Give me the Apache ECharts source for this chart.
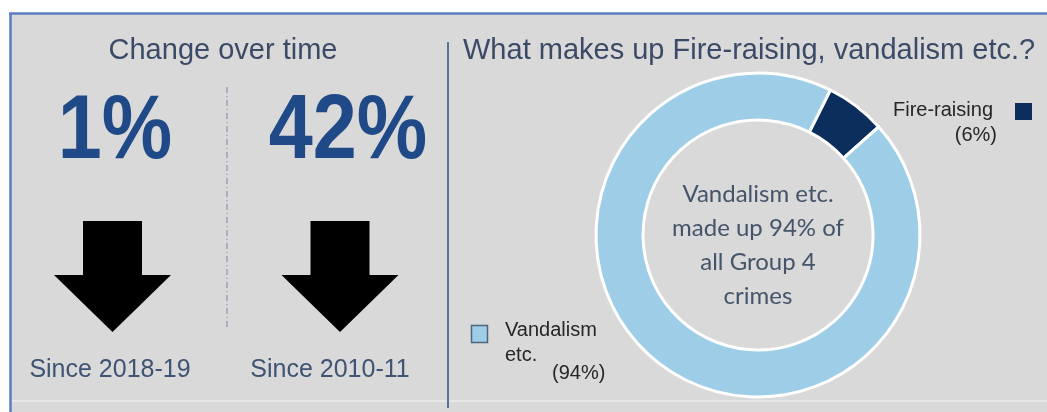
<!DOCTYPE html>
<html>
<head>
<meta charset="utf-8">
<script src="https://cdn.jsdelivr.net/npm/echarts@6/dist/echarts.min.js"></script>
<style>
  html, body { margin: 0; padding: 0; background: #ffffff; }
  #chart { width: 1047px; height: 412px; }
</style>
</head>
<body>
<div id="chart"></div>
<script>
// Change over time panel
const changeValues = [1, 42];                       // % fall
const changePeriods = ['Since 2018-19', 'Since 2010-11'];

// Composition of Group 4 crimes
const crimeTypes = ['Fire-raising', 'Vandalism etc.'];
const crimeShares = [6, 94];                        // % of group
const crimeColors = ['#0c2e5c', '#9ecde7'];

const FONT = '"Liberation Sans", Arial, sans-serif';
const TITLE_COLOR = '#3b4a66';

const chart = echarts.init(document.getElementById('chart'));

// Down arrow polygon around a centre x
function downArrow(cx) {
  return {
    type: 'polygon',
    shape: {
      points: [
        [cx - 29.5, 221], [cx + 29.5, 221], [cx + 29.5, 275],
        [cx + 58.5, 275], [cx, 332], [cx - 58.5, 275], [cx - 29.5, 275]
      ]
    },
    style: { fill: '#000000' }
  };
}

const changeCentres = [115, 348];
const periodCentres = [110, 330];

const graphics = [
  // panel background and frame
  { type: 'rect', z: -10, shape: { x: 10, y: 13, width: 1040, height: 400 }, style: { fill: '#d9d9d9' } },
  { type: 'line', shape: { x1: 9, y1: 13.5, x2: 1047, y2: 13.5 }, style: { stroke: '#5b7cbf', lineWidth: 2.5 } },
  { type: 'line', shape: { x1: 10.5, y1: 13, x2: 10.5, y2: 412 }, style: { stroke: '#5b7cbf', lineWidth: 2.5 } },
  { type: 'line', shape: { x1: 12, y1: 401, x2: 1047, y2: 401 }, style: { stroke: '#ebe6e6', lineWidth: 2 } },
  // panel dividers
  { type: 'line', shape: { x1: 448, y1: 42, x2: 448, y2: 408 }, style: { stroke: '#56739f', lineWidth: 2 } },
  { type: 'line', shape: { x1: 227, y1: 87, x2: 227, y2: 330 }, style: { stroke: '#7489ab', lineWidth: 1, lineDash: [6, 3, 1, 3] } },
  // headings
  { type: 'text', x: 223, y: 50.5, style: { text: 'Change over time', font: '29px ' + FONT, fill: TITLE_COLOR, align: 'center', verticalAlign: 'middle' } },
  { type: 'text', x: 463, y: 50.5, style: { text: 'What makes up Fire-raising, vandalism etc.?', font: '29px ' + FONT, fill: TITLE_COLOR, align: 'left', verticalAlign: 'middle' } }
];

changeValues.forEach((v, i) => {
  graphics.push({
    type: 'text', x: changeCentres[i], y: 133, scaleX: 0.88,
    style: { text: v + '%', font: 'bold 90px ' + FONT, fill: '#1f4a87', align: 'center', verticalAlign: 'middle' }
  });
  graphics.push(downArrow(i === 0 ? 112.5 : 340));
  graphics.push({
    type: 'text', x: periodCentres[i], y: 370,
    style: { text: changePeriods[i], font: '25px ' + FONT, fill: '#3d5473', align: 'center', verticalAlign: 'middle' }
  });
});

// legend-style labels beside the ring
graphics.push(
  { type: 'text', x: 993, y: 110, style: { text: crimeTypes[0], font: '20px ' + FONT, fill: '#262626', align: 'right', verticalAlign: 'middle' } },
  { type: 'text', x: 997, y: 135, style: { text: '(' + crimeShares[0] + '%)', font: '20px ' + FONT, fill: '#262626', align: 'right', verticalAlign: 'middle' } },
  { type: 'rect', shape: { x: 1015, y: 103, width: 17, height: 17 }, style: { fill: crimeColors[0] } },
  { type: 'rect', shape: { x: 471.5, y: 325.5, width: 16, height: 17 }, style: { fill: crimeColors[1], stroke: '#4f6480', lineWidth: 1.5 } },
  { type: 'text', x: 505, y: 330, style: { text: crimeTypes[1].split(' ')[0], font: '20px ' + FONT, fill: '#262626', align: 'left', verticalAlign: 'middle' } },
  { type: 'text', x: 505, y: 355, style: { text: crimeTypes[1].split(' ')[1], font: '20px ' + FONT, fill: '#262626', align: 'left', verticalAlign: 'middle' } },
  { type: 'text', x: 552, y: 373, style: { text: '(' + crimeShares[1] + '%)', font: '20px ' + FONT, fill: '#262626', align: 'left', verticalAlign: 'middle' } },
  // message in the hole of the ring
  { type: 'text', x: 758, y: 245, z: 10,
    style: {
      text: crimeTypes[1] + '\nmade up ' + crimeShares[1] + '% of\nall Group 4\ncrimes',
      font: '24px Lato, "Open Sans", sans-serif', lineHeight: 34, fill: '#44546a',
      align: 'center', verticalAlign: 'middle'
    } }
);

chart.setOption({
  backgroundColor: '#ffffff',
  animation: false,
  graphic: graphics,
  series: [{
    type: 'pie',
    center: [758, 235],
    radius: [115, 162],
    startAngle: 63.5,
    clockwise: true,
    silent: true,
    label: { show: false },
    labelLine: { show: false },
    itemStyle: { borderColor: '#ffffff', borderWidth: 3 },
    data: crimeTypes.map((name, i) => ({
      name: name,
      value: crimeShares[i],
      itemStyle: { color: crimeColors[i] }
    }))
  }]
});
</script>
</body>
</html>
